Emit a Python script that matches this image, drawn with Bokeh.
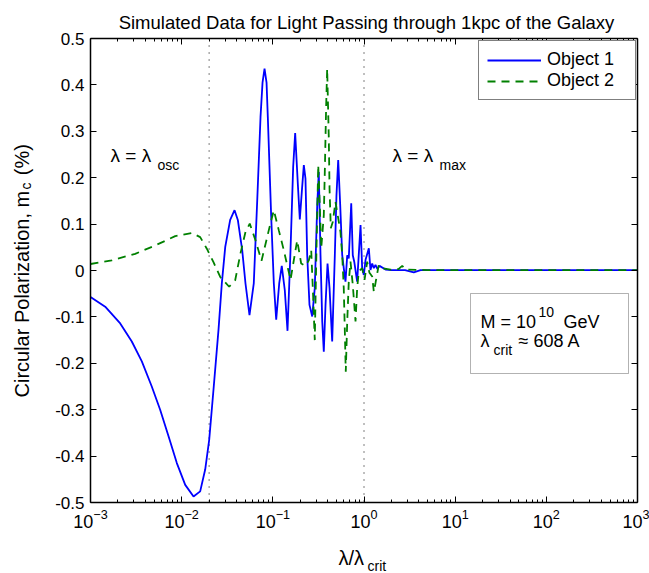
import math
from bokeh.plotting import figure
from bokeh.models import (Span, Label, BoxAnnotation, Legend, LegendItem, LinearAxis,
                          LogAxis, FixedTicker, CustomJSTickFormatter, LogTickFormatter)
from bokeh.embed import file_html
from bokeh.resources import INLINE

FONT = "Liberation Sans"

# ---------------- data ----------------
title_text = "Simulated Data for Light Passing through 1kpc of the Galaxy"
series_names = ["Object 1", "Object 2"]

# log10(lambda/lambda_crit) and circular polarization m_c (%)
obj1_log10x = [-3.000, -2.839, -2.674, -2.547, -2.437, -2.328, -2.236, -2.144, -2.053, -1.961,
               -1.870, -1.797, -1.742, -1.698, -1.651, -1.596, -1.560, -1.522, -1.468, -1.420,
               -1.384, -1.336, -1.300, -1.256, -1.209, -1.171, -1.135, -1.113, -1.091, -1.069,
               -1.055, -1.018, -0.989, -0.963, -0.930, -0.902, -0.869, -0.839, -0.806, -0.777,
               -0.755, -0.726, -0.704, -0.682, -0.660, -0.642, -0.623, -0.598, -0.568, -0.540,
               -0.513, -0.496, -0.477, -0.458, -0.441, -0.422, -0.400, -0.378, -0.349, -0.320,
               -0.302, -0.283, -0.261, -0.239, -0.222, -0.203, -0.184, -0.167, -0.140, -0.123,
               -0.107, -0.075, -0.038, -0.020, -0.002, 0.017, 0.053, 0.071, 0.090, 0.108,
               0.126, 0.148, 0.170, 0.236, 0.300, 0.450, 0.546, 0.620, 1.000, 2.000, 3.000]
obj1_mc = [-0.057, -0.078, -0.114, -0.153, -0.196, -0.250, -0.300, -0.357, -0.415, -0.462,
           -0.487, -0.476, -0.429, -0.365, -0.257, -0.128, -0.029, 0.051, 0.109, 0.130,
           0.109, 0.044, -0.028, -0.096, -0.028, 0.152, 0.331, 0.405, 0.435, 0.405,
           0.331, 0.116, -0.028, -0.106, -0.028, 0.010, -0.042, -0.130, 0.044, 0.223,
           0.296, 0.187, 0.110, 0.170, 0.227, 0.198, 0.033, -0.074, -0.099, -0.038,
           0.141, 0.212, 0.033, -0.110, -0.175, -0.074, 0.015, -0.038, -0.153, 0.033,
           0.162, 0.238, 0.141, 0.033, 0.005, -0.024, 0.033, 0.026, 0.145, 0.033,
           0.019, -0.024, 0.098, 0.005, -0.010, 0.023, 0.048, 0.001, 0.015, 0.005,
           0.012, 0.003, 0.010, 0.002, 0.001, 0.001, -0.004, 0.001, 0.001, 0.001, 0.001]

obj2_log10x = [-3.000, -2.766, -2.510, -2.290, -2.071, -1.889, -1.797, -1.724, -1.651, -1.577,
               -1.479, -1.413, -1.355, -1.300, -1.253, -1.190, -1.124, -1.044, -0.989, -0.935,
               -0.880, -0.806, -0.733, -0.689, -0.642, -0.605, -0.579, -0.559, -0.540, -0.521,
               -0.502, -0.485, -0.469, -0.441, -0.430, -0.415, -0.404, -0.386, -0.378, -0.364,
               -0.342, -0.313, -0.294, -0.258, -0.239, -0.222, -0.211, -0.200, -0.184, -0.167,
               -0.148, -0.123, -0.093, -0.075, -0.057, -0.020, 0.006, 0.035, 0.060, 0.090,
               0.108, 0.126, 0.162, 0.200, 0.291, 0.378, 0.419, 0.455, 0.700, 1.500, 3.000]
obj2_mc = [0.014, 0.022, 0.036, 0.054, 0.074, 0.081, 0.072, 0.047, 0.018, -0.014,
           -0.035, -0.021, 0.037, 0.083, 0.101, 0.065, 0.021, 0.087, 0.130, 0.087,
           0.044, -0.020, 0.065, 0.015, 0.010, 0.022, 0.044, -0.050, -0.150, 0.050,
           0.227, 0.141, 0.048, 0.119, 0.212, 0.356, 0.435, 0.284, 0.177, 0.091,
           0.105, 0.148, 0.126, 0.083, 0.033, -0.038, -0.124, -0.218, -0.110, -0.024,
           0.019, -0.031, -0.110, -0.038, -0.002, 0.005, -0.020, 0.019, -0.005, -0.013,
           -0.046, -0.027, 0.012, 0.005, 0.002, 0.003, 0.010, 0.002, 0.001, 0.001, 0.001]

lambda_osc = 0.02
lambda_max = 1.0

x_ticks = [1e-3, 1e-2, 1e-1, 1e0, 1e1, 1e2, 1e3]
x_minor_ticks = [k * 10.0 ** e for e in range(-3, 3) for k in range(2, 10)]
y_ticks = [-0.5, -0.4, -0.3, -0.2, -0.1, 0.0, 0.1, 0.2, 0.3, 0.4, 0.5]

obj1_x = [10 ** e for e in obj1_log10x]
obj2_x = [10 ** e for e in obj2_log10x]

# ---------------- figure ----------------
W, H = 649, 573
BL, BR, BT, BB = 90, 12, 38, 71

p = figure(width=W, height=H, x_axis_type="log", x_range=(1e-3, 1e3), y_range=(-0.5, 0.5),
           output_backend="svg", toolbar_location=None,
           min_border_left=BL, min_border_right=BR, min_border_top=BT, min_border_bottom=BB,
           background_fill_color="white", border_fill_color="white")
p.grid.visible = False
p.outline_line_color = None
p.title.text = ""

# canvas pixel -> data coordinates (for placing annotations)
FW, FH = W - BL - BR, H - BT - BB


def ax(px):
    return 10 ** (-3 + 6 * (px - BL) / FW)


def ay(py):
    return 0.5 - (py - BT) / FH


def style(axis, labels=True, size="17px"):
    axis.axis_line_color = "black"
    axis.axis_line_width = 1.5
    axis.major_tick_line_color = "black"
    axis.major_tick_line_width = 1
    axis.major_tick_in = 6
    axis.major_tick_out = 0
    axis.minor_tick_line_color = "black"
    axis.minor_tick_in = 3
    axis.minor_tick_out = 0
    axis.major_label_text_font = FONT
    axis.major_label_text_font_size = size
    axis.major_label_text_color = "black"
    axis.major_label_standoff = 6
    if not labels:
        axis.formatter = CustomJSTickFormatter(code="return '';")
        axis.major_label_standoff = 0
        axis.major_label_text_font_size = "1px"


p.xaxis.ticker = FixedTicker(ticks=x_ticks, minor_ticks=x_minor_ticks)
p.xaxis.formatter = LogTickFormatter()
p.yaxis.ticker = FixedTicker(ticks=y_ticks)
p.yaxis.formatter = CustomJSTickFormatter(
    code="return Math.abs(tick) < 1e-9 ? '0' : tick.toFixed(1);")
style(p.xaxis[0], size="18px")
style(p.yaxis[0], size="17px")

top_axis = LogAxis(ticker=FixedTicker(ticks=x_ticks, minor_ticks=x_minor_ticks))
style(top_axis, labels=False)
p.add_layout(top_axis, "above")
right_axis = LinearAxis(ticker=FixedTicker(ticks=y_ticks))
style(right_axis, labels=False)
right_axis.minor_tick_line_color = None
p.add_layout(right_axis, "right")
p.yaxis[0].minor_tick_line_color = None

# reference lines
for loc in (lambda_osc, lambda_max):
    p.add_layout(Span(location=loc, dimension="height", line_color="black",
                      line_width=1, line_dash="1 6", level="underlay"))

r1 = p.line(obj1_x, obj1_mc, line_color="#0000ff", line_width=1.8)
r2 = p.line(obj2_x, obj2_mc, line_color="#008000", line_width=1.8, line_dash="8 6")

legend = Legend(items=[LegendItem(label=series_names[0], renderers=[r1]),
                       LegendItem(label=series_names[1], renderers=[r2])],
                location=(388, 402), padding=8, spacing=0, glyph_width=54,
                glyph_height=20, label_height=20, label_width=80, label_standoff=6,
                border_line_color="black", border_line_width=1,
                background_fill_color="white", background_fill_alpha=1,
                label_text_font=FONT, label_text_font_size="18px",
                label_text_color="black")
p.add_layout(legend)

p.add_layout(BoxAnnotation(left=ax(470), right=ax(628), top=ay(293), bottom=ay(373),
                           fill_color="white", fill_alpha=1, line_color="black",
                           line_width=1))

SUB = "14px"


def lab(px, py, text, size="18px", align="left", angle=0.0, place="center"):
    lbl = Label(x=ax(px), y=ay(py), text=text, text_font=FONT,
                text_font_size=size, text_align=align,
                text_baseline="alphabetic", angle=angle, text_color="black")
    if place == "center":
        p.add_layout(lbl)
    else:
        p.add_layout(lbl, place)


# inside the axes
lab(110, 155, "λ = λ", "19px")
lab(157, 164, "osc", SUB)
lab(392, 155, "λ = λ", "19px")
lab(439, 164, "max", SUB)
lab(480, 321, "M = 10")
lab(538, 311, "10", SUB)
lab(563, 321, "GeV")
lab(480, 340, "λ")
lab(493, 349, "crit", SUB)
lab(518, 340, "≈ 608 A")

# outside the axes (side panels, so they are not clipped)
lab(366, 22, title_text, "18.5px", align="center", place="above")
lab(338, 557, "λ/λ", "20px", place="below")
lab(367, 565, "crit", SUB, place="left")
lab(21, 397, "Circular Polarization, m\u2002 (%)", "20px", angle=math.pi / 2, place="left")
lab(25, 189, "c", SUB, angle=math.pi / 2, place="below")

open("out.html", "w").write(file_html(p, INLINE))
